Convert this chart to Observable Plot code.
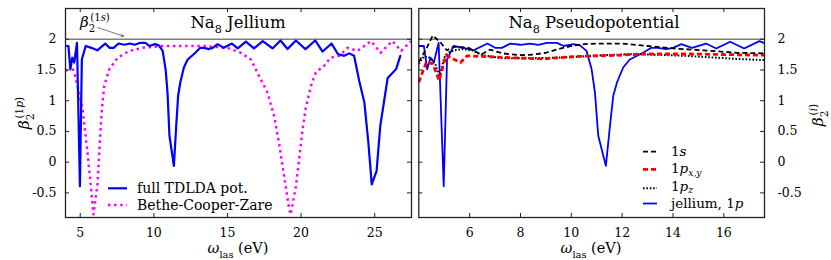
<!DOCTYPE html>
<html><head><meta charset="utf-8">
<script src="https://cdn.jsdelivr.net/npm/d3@7"></script>
<script src="https://cdn.jsdelivr.net/npm/@observablehq/plot@0.6"></script>
<style>
html,body{margin:0;padding:0;background:#fff;}
#wrap{position:relative;width:831px;height:260px;overflow:hidden;}
#wrap svg{position:absolute;top:0;overflow:visible;}
</style></head><body><div id="wrap"></div>
<script>
// ---------- data ----------
const jelliumX = [4.0,4.2,4.33,4.46,4.59,4.78,4.98,5.11,5.37,5.76,6.16,6.7,7.0,7.27,7.6,8.0,8.38,8.7,9.04,9.43,9.7,10.08,10.34,10.6,10.8,10.93,11.06,11.36,11.52,11.65,11.8,12.04,12.3,12.82,13.15,13.4,13.74,14.0,14.33,14.75,15.3,15.7,16.25,16.8,17.4,18.06,18.6,19.08,19.65,20.3,20.96,21.46,22.07,22.5,22.93,23.27,23.6,23.95,24.3,24.57,24.8,25.13,25.38,25.88,26.45,26.74];
const jelliumY = [1.89,1.89,1.51,1.70,1.62,1.94,-0.39,1.67,1.89,1.86,1.82,1.93,1.86,1.86,1.93,1.91,1.93,1.91,1.94,1.94,1.89,1.92,1.90,1.81,1.51,1.13,0.43,-0.06,0.59,1.08,1.30,1.54,1.67,1.78,1.86,1.86,1.84,1.86,1.92,1.86,1.93,1.85,1.96,1.85,1.97,1.85,1.98,1.84,1.98,1.84,1.98,1.80,1.93,1.76,1.73,1.77,1.73,1.32,0.97,0.32,-0.36,-0.14,0.59,1.37,1.51,1.73];
const bczX = [4.0,4.4,4.6,4.82,5.16,5.5,5.72,5.9,6.18,6.33,6.47,6.63,6.97,7.54,8.33,9.24,10.5,13.4,15.0,15.9,16.6,17.15,17.72,18.17,18.5,18.85,19.2,19.3,19.65,19.87,20.1,20.3,20.67,21.0,21.57,22.0,22.6,23.16,23.84,24.75,25.4,26.2,26.8,27.47];
const bczY = [1.48,1.58,1.45,1.24,0.86,0.15,-0.39,-0.85,-0.34,0.32,0.86,1.24,1.51,1.70,1.81,1.86,1.89,1.89,1.86,1.78,1.67,1.40,1.13,0.75,0.32,-0.23,-0.77,-0.85,-0.39,0.05,0.53,0.86,1.24,1.46,1.57,1.70,1.73,1.86,1.81,1.97,1.78,1.97,1.81,1.97];
const s1X = [4.0,4.3,4.55,4.85,5.1,5.4,5.96,6.45,6.8,7.3,8.0,8.5,9.0,9.5,10.0,10.5,11.0,12.0,13.0,14.0,15.2,16.5,17.6];
const s1Y = [1.63,1.85,2.06,1.95,1.82,1.88,1.86,1.75,1.83,1.77,1.74,1.75,1.78,1.84,1.89,1.92,1.93,1.93,1.89,1.85,1.82,1.78,1.77];
const pxyX = [4.0,4.3,4.55,4.8,5.07,5.35,5.64,5.9,6.5,7.6,8.9,10.2,11.9,12.8,14.7,17.6];
const pxyY = [1.30,1.63,1.60,1.33,1.74,1.68,1.62,1.73,1.72,1.70,1.68,1.72,1.74,1.76,1.76,1.74];
const pzX = [4.0,4.2,4.45,4.65,4.82,5.0,5.15,5.4,5.75,6.1,6.5,7.3,8.6,10.0,11.25,12.5,14.5,16.5,17.6];
const pzY = [1.60,1.72,1.70,1.60,1.38,1.70,1.78,1.82,1.84,1.82,1.74,1.69,1.69,1.71,1.74,1.76,1.73,1.68,1.66];
const leftXTicks = [5,10,15,20,25];
const rightXTicks = [6,8,10,12,14,16];
const yTicks = [-0.5,0,0.5,1,1.5,2];
const refLevel = [2];
const annotArrow = [{x1: 6.18, y1: 2.19, x2: 7.95, y2: 2.05}];

const toRows = (xs, ys) => xs.map((x, i) => ({x, y: ys[i]}));
const jellium = toRows(jelliumX, jelliumY);
const bcz = toRows(bczX, bczY);
const s1 = toRows(s1X, s1Y);
const pxy = toRows(pxyX, pxyY);
const pz = toRows(pzX, pzY);

const FONT = "DejaVu Serif";
const H = 260, MT = 8, MB = 43, innerH = H - MT - MB;
const FRAME = "#222";

// ---------- left panel ----------
const LW = 414, LML = 65, LMR = 3, LinnerW = LW - LML - LMR;
const left = Plot.plot({
  width: LW, height: H, marginLeft: LML, marginRight: LMR, marginTop: MT, marginBottom: MB,
  style: {fontFamily: FONT, fontSize: "12.5px", color: "#000", background: "transparent"},
  x: {domain: [4, 27.5]},
  y: {domain: [-0.9, 2.5]},
  marks: [
    Plot.ruleY(refLevel, {stroke: "#7f7f7f", strokeWidth: 1.6}),
    Plot.line(bcz, {x: "x", y: "y", stroke: "#ff00ff", strokeWidth: 2.5, strokeDasharray: "2.5,3.6", strokeLinecap: "butt", clip: true}),
    Plot.line(jellium, {x: "x", y: "y", stroke: "#0000ff", strokeWidth: 2.2, clip: true}),
    Plot.arrow(annotArrow, {x1: "x1", y1: "y1", x2: "x2", y2: "y2", stroke: "#444", strokeWidth: 0.7, headLength: 6, bend: 0}),
    Plot.tickX(leftXTicks, {x: d => d, insetTop: innerH - 4, stroke: FRAME}),
    Plot.tickX(leftXTicks, {x: d => d, insetBottom: innerH - 4, stroke: FRAME}),
    Plot.tickY(yTicks, {y: d => d, insetRight: LinnerW - 4, stroke: FRAME}),
    Plot.tickY(yTicks, {y: d => d, insetLeft: LinnerW - 4, stroke: FRAME}),
    Plot.axisX({ticks: leftXTicks, tickSize: 0, tickPadding: 11, tickFormat: d => String(d), label: null}),
    Plot.axisY({ticks: yTicks, tickSize: 0, tickPadding: 9, tickFormat: d => String(d), label: null}),
    Plot.frame({stroke: FRAME, strokeWidth: 1.3})
  ]
});
left.style.left = "0px";

// ---------- right panel ----------
const RX0 = 414, RW = 417, RML = 4.3, RMR = 67, RinnerW = RW - RML - RMR;
const right = Plot.plot({
  width: RW, height: H, marginLeft: RML, marginRight: RMR, marginTop: MT, marginBottom: MB,
  style: {fontFamily: FONT, fontSize: "12.5px", color: "#000", background: "transparent"},
  x: {domain: [4, 17.6]},
  y: {domain: [-0.9, 2.5]},
  marks: [
    Plot.ruleY(refLevel, {stroke: "#7f7f7f", strokeWidth: 1.6}),
    Plot.line(jellium, {x: "x", y: "y", stroke: "#0000ff", strokeWidth: 1.8, clip: true}),
    Plot.line(pz, {x: "x", y: "y", stroke: "#000", strokeWidth: 2, strokeDasharray: "1.6,1.8", strokeLinecap: "butt", clip: true}),
    Plot.line(pxy, {x: "x", y: "y", stroke: "#ff0000", strokeWidth: 2.8, strokeDasharray: "5,3", strokeLinecap: "butt", clip: true}),
    Plot.line(s1, {x: "x", y: "y", stroke: "#000", strokeWidth: 1.8, strokeDasharray: "5,3", strokeLinecap: "butt", clip: true}),
    Plot.tickX(rightXTicks, {x: d => d, insetTop: innerH - 4, stroke: FRAME}),
    Plot.tickX(rightXTicks, {x: d => d, insetBottom: innerH - 4, stroke: FRAME}),
    Plot.tickY(yTicks, {y: d => d, insetRight: RinnerW - 4, stroke: FRAME}),
    Plot.tickY(yTicks, {y: d => d, insetLeft: RinnerW - 4, stroke: FRAME}),
    Plot.axisX({ticks: rightXTicks, tickSize: 0, tickPadding: 11, tickFormat: d => String(d), label: null}),
    Plot.axisY({anchor: "right", ticks: yTicks, tickSize: 0, tickPadding: 13, tickFormat: d => String(d), label: null}),
    Plot.frame({stroke: FRAME, strokeWidth: 1.3})
  ]
});
right.style.left = RX0 + "px";

const wrap = document.getElementById("wrap");
wrap.appendChild(left);
wrap.appendChild(right);

// ---------- rich text helper ----------
function rich(parent, parts, size, {x = 0, y = 0, anchor = "start", transform = null, subShift = 0.32} = {}) {
  const t = parent.append("text")
    .attr("font-family", FONT).attr("font-size", size)
    .attr("text-anchor", anchor).attr("fill", "#000");
  if (transform) t.attr("transform", transform); else t.attr("x", x).attr("y", y);
  let cur = 0;
  for (const p of parts) {
    const target = p.sub ? size * subShift : p.sup ? -size * 0.42 : 0;
    const ts = t.append("tspan").text(p.t).attr("dy", target - cur);
    if (p.dx) ts.attr("dx", p.dx);
    cur = target;
    if (p.sub || p.sup) ts.attr("font-size", size * 0.68);
    if (p.it) ts.attr("font-style", "italic");
  }
  return t;
}

const L = d3.select(left), R = d3.select(right);

// titles
rich(L, [{t: "Na"}, {t: "8", sub: true}, {t: " Jellium"}], 16.5, {x: 238, y: 28, anchor: "middle"});
rich(R, [{t: "Na"}, {t: "8", sub: true}, {t: " Pseudopotential"}], 16.5, {x: 591 - RX0 + 3, y: 28, anchor: "middle"});

// annotation
rich(L, [{t: "β", it: true}, {t: "2", sub: true}, {t: "(1", sup: true, dx: -5}, {t: "s", sup: true, it: true}, {t: ")", sup: true}], 15, {x: 80, y: 27});

// x labels
const xlab = [{t: "ω", it: true}, {t: "las", sub: true}, {t: " (eV)"}];
rich(L, xlab, 14.5, {x: 238, y: 253, anchor: "middle"});
rich(R, xlab, 14.5, {x: 591 - RX0, y: 253, anchor: "middle"});

// y labels
rich(L, [{t: "β", it: true}, {t: "2", sub: true}, {t: "(1", sup: true, dx: -5}, {t: "p", sup: true, it: true}, {t: ")", sup: true}], 15.5, {anchor: "middle", transform: "translate(29,113) rotate(-90)"});
rich(R, [{t: "β", it: true}, {t: "2", sub: true}, {t: "(", sup: true, dx: -5}, {t: "i", sup: true, it: true}, {t: ")", sup: true}], 15.5, {anchor: "middle", transform: `translate(${823 - RX0},115) rotate(-90)`});

// left legend
function sample(g, x1, x2, y, stroke, width, dash) {
  const l = g.append("line").attr("x1", x1).attr("x2", x2).attr("y1", y).attr("y2", y)
    .attr("stroke", stroke).attr("stroke-width", width);
  if (dash) l.attr("stroke-dasharray", dash);
}
sample(L, 108, 127, 188.3, "#0000ff", 2.2, null);
sample(L, 108, 127, 205, "#ff00ff", 2.5, "2.5,3.6");
rich(L, [{t: "full TDLDA pot."}], 14, {x: 137, y: 192.5});
rich(L, [{t: "Bethe-Cooper-Zare"}], 14, {x: 137, y: 209.5});

// right legend
const rx1 = 643 - RX0, rx2 = 657 - RX0, rtx = 671 - RX0;
sample(R, rx1, rx2, 151.7, "#000", 1.8, "5,3");
sample(R, rx1, rx2, 169.3, "#ff0000", 2.8, "5,3");
sample(R, rx1, rx2, 188.3, "#000", 2, "1.6,1.8");
sample(R, rx1, rx2, 203.5, "#0000ff", 1.8, null);
rich(R, [{t: "1"}, {t: "s", it: true}], 13.5, {x: rtx, y: 156});
rich(R, [{t: "1"}, {t: "p", it: true}, {t: "x,y", sub: true, it: true}], 13.5, {x: rtx, y: 173, subShift: 0.22});
rich(R, [{t: "1"}, {t: "p", it: true}, {t: "z", sub: true, it: true}], 13.5, {x: rtx, y: 190.5, subShift: 0.18});
rich(R, [{t: "jellium, 1"}, {t: "p", it: true}], 13.5, {x: rtx, y: 208});
</script></body></html>
